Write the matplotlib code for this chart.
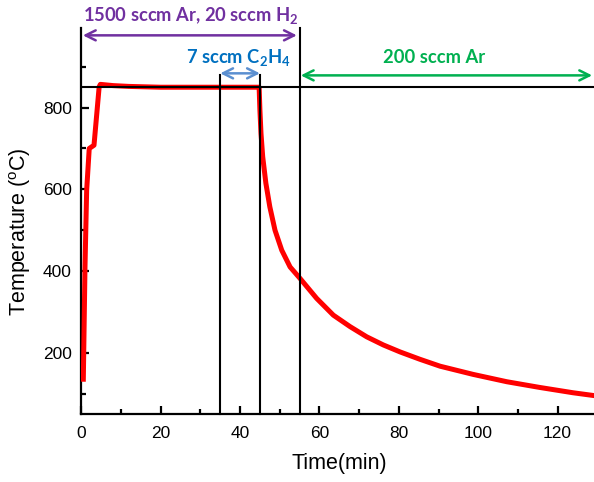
import matplotlib
matplotlib.use("Agg")
import matplotlib.pyplot as plt
from matplotlib.ticker import MultipleLocator

# Data
time_min = [0.5, 0.93, 1.35, 2.0, 3.2, 4.5, 4.8, 8, 12, 20, 30, 40, 44.8,
            45.0, 45.27, 45.7, 46.5, 47.5, 48.8, 50.5, 52.6, 55.1, 59.3, 63.5,
            67.7, 71.9, 76.1, 80.3, 85.3, 90.4, 98.7, 107.2, 115.5, 123.9, 130.0]
temp_c = [129, 410, 598, 700, 708, 851, 857, 854, 852, 850, 850, 850, 850,
          794, 737, 680, 615, 557, 500, 451, 410, 382, 333, 292,
          264, 239, 219, 202, 184, 167, 147, 129, 115, 102, 94]

plateau_temp = 850
step_times = [35, 45, 55]
step_tops = [880, 880, 995]

labels = ["1500 sccm Ar, 20 sccm H$_\\mathregular{2}$",
          "7 sccm C$_\\mathregular{2}$H$_\\mathregular{4}$",
          "200 sccm Ar"]
label_colors = ["#7030A0", "#0070C0", "#00B050"]
arrow_colors = ["#7030A0", "#5B8FD0", "#00B050"]
arrow_spans = [(0.4, 54.3), (35, 45), (55.3, 128.7)]
arrow_levels = [977, 884, 879]
label_x = [27.5, 39.5, 88.9]
label_y = [1026, 924, 924]

plt.rcParams['font.family'] = ['Liberation Sans', 'DejaVu Sans']

fig = plt.figure(figsize=(5.94, 4.82), dpi=100)
ax = fig.add_axes([81.3 / 594, (482 - 414) / 482, 516 / 594, 386 / 482])
ymin, ymax = 50, 995
ax.set_xlim(0, 130)
ax.set_ylim(ymin, ymax)

ax.plot(time_min, temp_c, color="#FF0000", lw=3.6, solid_joinstyle='round',
        solid_capstyle='butt', zorder=3)
ax.axhline(plateau_temp, color="black", lw=1.5, zorder=4)
for t, top in zip(step_times, step_tops):
    ax.plot([t, t], [ymin, top], color="black", lw=1.5, zorder=4, clip_on=False)

for (x0, x1), ay, c in zip(arrow_spans, arrow_levels, arrow_colors):
    ax.annotate("", xy=(x0, ay), xytext=(x1, ay),
                arrowprops=dict(arrowstyle="<->", color=c, lw=1.8,
                                mutation_scale=18, shrinkA=0, shrinkB=0),
                annotation_clip=False)
for lab, tx, ty, c in zip(labels, label_x, label_y, label_colors):
    ax.text(tx, ty, lab, color=c, fontsize=13.2, fontweight='bold',
            ha='center', va='center', family=['Lato', 'DejaVu Sans'],
            clip_on=False)

for s in ['top', 'right']:
    ax.spines[s].set_visible(False)
for s in ['left', 'bottom']:
    ax.spines[s].set_linewidth(1.6)

ax.xaxis.set_major_locator(MultipleLocator(20))
ax.xaxis.set_minor_locator(MultipleLocator(10))
ax.yaxis.set_major_locator(MultipleLocator(200))
ax.yaxis.set_minor_locator(MultipleLocator(100))
ax.tick_params(which='major', direction='in', length=5.8, width=1.6, labelsize=12.5)
ax.tick_params(which='minor', direction='in', length=3.4, width=1.6)
ax.tick_params(axis='x', which='major', pad=8.3)
ax.tick_params(axis='y', which='major', pad=6.8)

fig.text(339 / 594, 1 - 464 / 482, "Time(min)", fontsize=15.5,
         ha='center', va='center')
fig.text(20 / 594, 1 - 232 / 482, "Temperature ($^\\mathregular{o}$C)",
         fontsize=15.5, rotation=90, ha='center', va='center')

fig.savefig("out.png", dpi=100)
